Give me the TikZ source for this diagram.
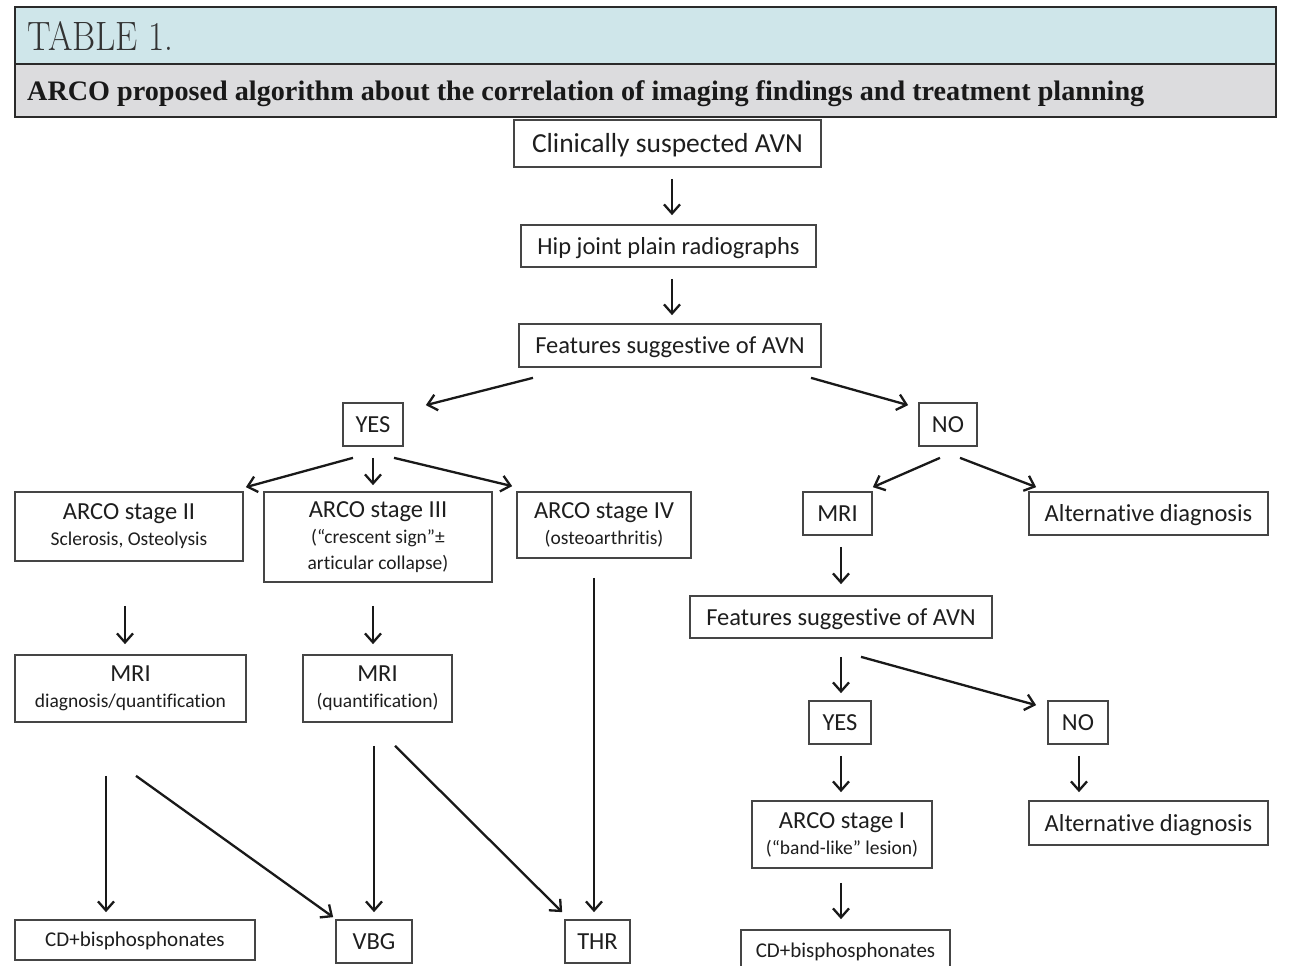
\documentclass[tikz,border=0pt]{standalone}
\usepackage{fontspec}
\setmainfont{Carlito}[Ligatures=NoCommon]
\newfontfamily\hdrserif{Liberation Serif}
\newfontfamily\lmroman{Latin Modern Roman}
\usetikzlibrary{arrows.meta}
\definecolor{hdrblue}{HTML}{CFE6EA}
\definecolor{hdrgray}{HTML}{DCDCDE}
\definecolor{hdrline}{HTML}{2A2A2A}
\definecolor{boxline}{HTML}{454545}
\definecolor{txt}{HTML}{1E1E1E}
\begin{document}
\begin{tikzpicture}[x=1pt,y=-1pt,
  box/.style={draw=boxline, line width=1.7pt, inner sep=0pt, align=center, text=txt, font=\fontsize{24.5}{26}\selectfont},
  one/.style={text height=16pt, text depth=0pt},
  sm/.style={font=\fontsize{19.5}{26}\selectfont},
  cdf/.style={font=\fontsize{21}{26}\selectfont, text height=13.5pt, text depth=0pt},
  arr/.style={draw=black!90, line width=2.3pt, -{Straight Barb[length=9pt,width=16pt]}}
]
\useasboundingbox (0,0) rectangle (1306,966);
\fill[white] (0,0) rectangle (1306,966);

% header
\filldraw[fill=hdrblue, draw=hdrline, line width=1.3pt] (15,7) rectangle (1276,64);
\filldraw[fill=hdrgray, draw=hdrline, line width=1.3pt] (15,64) rectangle (1276,117);
\node[anchor=base west, inner sep=0pt, text=black!80] (ttl) at (27,51)
  {\scalebox{0.86}[1]{\lmroman\fontsize{41}{44}\selectfont TABLE 1.}};
\node[anchor=base west, inner sep=0pt, text=black!90] (sub) at (27,100)
  {\resizebox{1117pt}{!}{\hdrserif\bfseries ARCO proposed algorithm about the correlation of imaging findings and treatment planning}};

% nodes
\node[box, minimum width=307pt, minimum height=47pt, font=\fontsize{27.5}{30}\selectfont, text height=18pt, text depth=0pt] (c1) at (667.5,143.5) {Clinically suspected AVN};
\node[box, one, minimum width=295pt, minimum height=42pt] (c2) at (668.5,246) {Hip joint plain radiographs};
\node[box, one, minimum width=302pt, minimum height=43pt] (c3) at (670,345.5) {Features suggestive of AVN};
\node[box, one, minimum width=60pt, minimum height=43pt] (yes1) at (373,424.5) {YES};
\node[box, one, minimum width=58pt, minimum height=43pt] (no1) at (948,424.5) {NO};

\node[box, sm, minimum width=228pt, minimum height=69pt] (s2) at (129,526.5) {{\fontsize{24.5}{26}\selectfont ARCO stage II}\\Sclerosis, Osteolysis};
\node[box, sm, minimum width=228pt, minimum height=90pt] (s3) at (378,537) {{\fontsize{24.5}{26}\selectfont ARCO stage III}\\(“crescent sign”±\\articular collapse)};
\node[box, sm, minimum width=174pt, minimum height=66pt] (s4) at (604,525) {{\fontsize{24.5}{26}\selectfont ARCO stage IV}\\(osteoarthritis)};
\node[box, one, minimum width=69pt, minimum height=43pt] (mri1) at (837.5,513.5) {MRI};
\node[box, one, minimum width=239pt, minimum height=43pt] (alt1) at (1148.5,513.5) {Alternative diagnosis};

\node[box, one, minimum width=302pt, minimum height=42pt] (f2) at (841,617) {Features suggestive of AVN};
\node[box, sm, minimum width=231pt, minimum height=67pt] (m2) at (130.5,688.5) {{\fontsize{24.5}{26}\selectfont MRI}\\diagnosis/quantification};
\node[box, sm, minimum width=149pt, minimum height=67pt] (m3) at (377.5,688.5) {{\fontsize{24.5}{26}\selectfont MRI}\\(quantification)};
\node[box, one, minimum width=62pt, minimum height=43pt] (yes2) at (840,722.5) {YES};
\node[box, one, minimum width=60pt, minimum height=43pt] (no2) at (1078,722.5) {NO};
\node[box, sm, minimum width=180pt, minimum height=67pt] (s1) at (842,834.5) {{\fontsize{24.5}{26}\selectfont ARCO stage I}\\(“band-like” lesion)};
\node[box, one, minimum width=239pt, minimum height=44pt] (alt2) at (1148.5,823) {Alternative diagnosis};

\node[box, cdf, minimum width=240pt, minimum height=40pt] (cd1) at (135,940) {CD+bisphosphonates};
\node[box, one, minimum width=76pt, minimum height=43pt] (vbg) at (374,941.5) {VBG};
\node[box, one, minimum width=65pt, minimum height=43pt] (thr) at (597.5,941.5) {THR};
\node[box, cdf, minimum width=209pt, minimum height=42pt] (cd2) at (845.5,951) {CD+bisphosphonates};

% connectors
\draw[arr] ([shift={(4.5,11)}]c1.south) -- ([shift={(3.5,-9)}]c2.north);
\draw[arr] ([shift={(3.5,11)}]c2.south) -- ([shift={(2,-8)}]c3.north);
\draw[arr] ([shift={(-137,10)}]c3.south) -- ([shift={(22,3)}]yes1.north east);
\draw[arr] ([shift={(141,10)}]c3.south) -- ([shift={(-10,3)}]no1.north west);
\draw[arr] ([shift={(-20,11)}]yes1.south) -- ([shift={(2,-4)}]s2.north east);
\draw[arr] ([shift={(0,11)}]yes1.south) -- ([shift={(-5,-6)}]s3.north);
\draw[arr] ([shift={(21,11)}]yes1.south) -- ([shift={(-4,-5)}]s4.north west);
\draw[arr] ([shift={(-8,11)}]no1.south) -- ([shift={(0,-4)}]mri1.north east);
\draw[arr] ([shift={(12,11)}]no1.south) -- ([shift={(8,-4)}]alt1.north west);
\draw[arr] ([shift={(3.5,11)}]mri1.south) -- ([shift={(0,-11)}]f2.north);
\draw[arr] ([shift={(-4,44)}]s2.south) -- ([shift={(-5.5,-10)}]m2.north);
\draw[arr] ([shift={(-5,23)}]s3.south) -- ([shift={(-4.5,-10)}]m3.north);
\draw[arr] ([shift={(-10,19)}]s4.south) -- ([shift={(-3.5,-7)}]thr.north);
\draw[arr] ([shift={(0,18)}]f2.south) -- ([shift={(1,-7)}]yes2.north);
\draw[arr] ([shift={(20,18)}]f2.south) -- ([shift={(-11,5)}]no2.north west);
\draw[arr] ([shift={(1,11)}]yes2.south) -- ([shift={(-1,-8)}]s1.north);
\draw[arr] ([shift={(1,11)}]no2.south) -- ([shift={(-69.5,-8)}]alt2.north);
\draw[arr] ([shift={(-1,14)}]s1.south) -- ([shift={(-4.5,-10)}]cd2.north);
\draw[arr] ([shift={(-24.5,53)}]m2.south) -- ([shift={(-29,-7)}]cd1.north);
\draw[arr] ([shift={(5.5,53)}]m2.south) -- ([shift={(-2,-2)}]vbg.north west);
\draw[arr] ([shift={(-3.5,23)}]m3.south) -- ([shift={(0,-7)}]vbg.north);
\draw[arr] ([shift={(17.5,23)}]m3.south) -- ([shift={(-2,-7)}]thr.north west);
\end{tikzpicture}
\end{document}
